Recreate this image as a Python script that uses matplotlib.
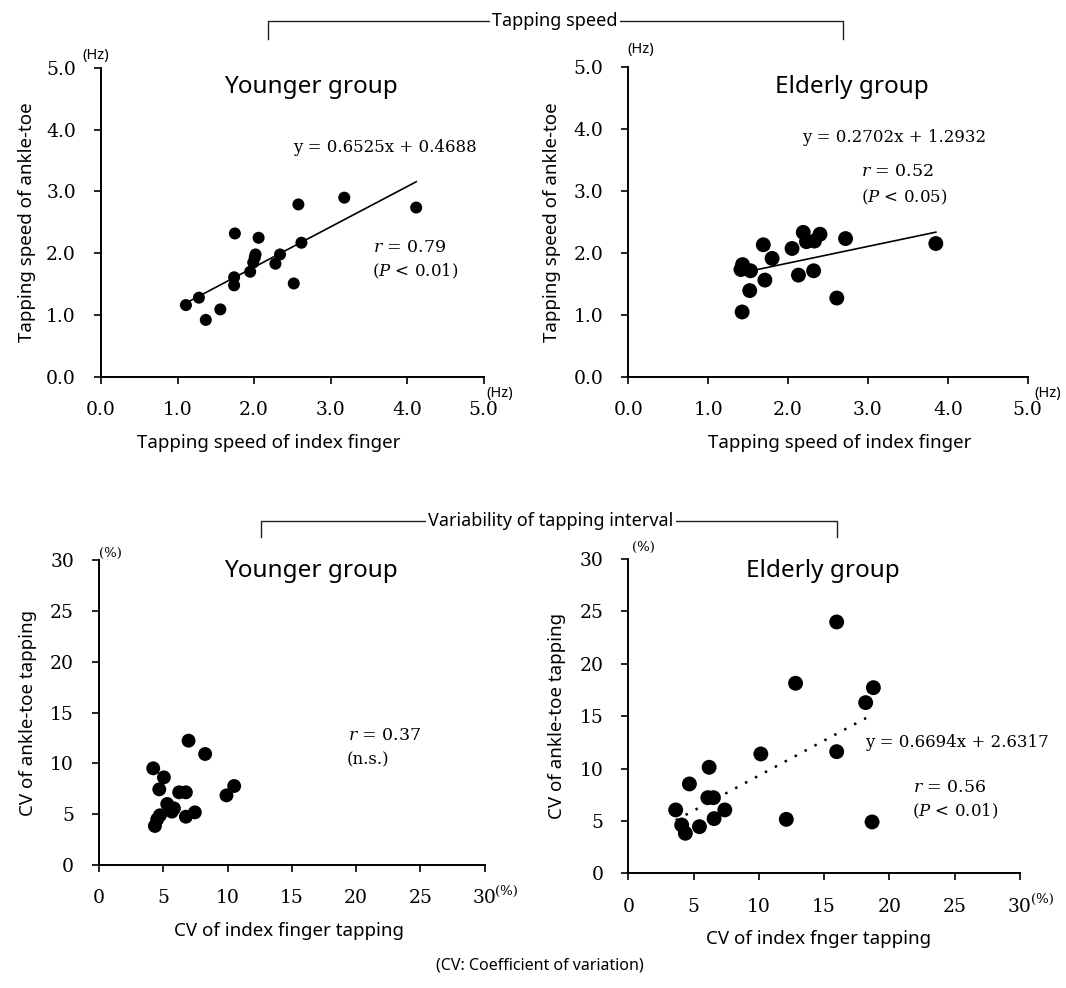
import matplotlib
matplotlib.use("Agg")
import matplotlib.pyplot as plt
import numpy as np
from matplotlib.lines import Line2D

plt.rcParams['mathtext.fontset'] = 'dejavuserif'

# ---------------- data ----------------
young_speed_finger = [1.11, 1.28, 1.37, 1.56, 1.74, 1.74, 1.75, 1.95, 1.99, 2.01, 2.02,
                      2.06, 2.28, 2.34, 2.52, 2.58, 2.62, 3.18, 4.12]
young_speed_toe = [1.16, 1.28, 0.92, 1.09, 1.61, 1.48, 2.32, 1.70, 1.85, 1.93, 1.98,
                   2.25, 1.83, 1.98, 1.51, 2.79, 2.17, 2.90, 2.74]

elder_speed_finger = [1.425, 1.41, 1.43, 1.53, 1.52, 1.69, 1.71, 1.80, 2.05, 2.13, 2.19,
                      2.23, 2.32, 2.33, 2.40, 2.61, 2.72, 3.85]
elder_speed_toe = [1.045, 1.73, 1.81, 1.71, 1.39, 2.13, 1.56, 1.91, 2.07, 1.64, 2.33,
                   2.18, 1.71, 2.19, 2.30, 1.27, 2.23, 2.15]

young_cv_finger = [4.22, 5.05, 4.69, 6.97, 8.26, 6.24, 6.76, 5.31, 5.83, 5.67, 4.74,
                   4.53, 4.35, 6.76, 7.46, 9.92, 10.52]
young_cv_toe = [9.51, 8.62, 7.44, 12.23, 10.92, 7.15, 7.15, 6.00, 5.57, 5.25, 4.89,
                4.49, 3.84, 4.75, 5.18, 6.85, 7.77]

elder_cv_finger = [3.63, 4.09, 4.37, 4.68, 5.45, 6.19, 6.09, 6.52, 6.57, 7.39, 10.15,
                   12.10, 12.81, 15.96, 15.96, 18.18, 18.77, 18.67]
elder_cv_toe = [6.05, 4.61, 3.82, 8.53, 4.45, 10.12, 7.22, 7.22, 5.22, 6.05, 11.39,
                5.15, 18.14, 23.99, 11.61, 16.29, 17.72, 4.90]

slopes = [0.6525, 0.2702, None, 0.6694]
intercepts = [0.4688, 1.2932, None, 2.6317]
r_values = ["0.79", "0.52", "0.37", "0.56"]
p_texts = ["($P$ < 0.01)", "($P$ < 0.05)", "(n.s.)", "($P$ < 0.01)"]

speed_ticks = [0.0, 1.0, 2.0, 3.0, 4.0, 5.0]
cv_ticks = [0, 5, 10, 15, 20, 25, 30]

titles = ["Younger group", "Elderly group", "Younger group", "Elderly group"]
xlabels = ["Tapping speed of index finger", "Tapping speed of index finger",
           "CV of index finger tapping", "CV of index fnger tapping"]
ylabels = ["Tapping speed of ankle-toe", "Tapping speed of ankle-toe",
           "CV of ankle-toe tapping", "CV of ankle-toe tapping"]

# ---------------- layout helpers ----------------
W, H = 1066, 988
fig = plt.figure(figsize=(W / 100, H / 100), dpi=100)


def fx(px):
    return px / W


def fy(py):
    return 1 - py / H


def add_ax(l, r, t, b):
    return fig.add_axes([fx(l), fy(b), fx(r) - fx(l), fy(t) - fy(b)])


SANS = ['Noto Sans', 'DejaVu Sans']
SERIF = 'DejaVu Serif'

boxes = [(101, 483.5, 68, 376.7), (628.3, 1027.7, 67, 376.7),
         (99, 484.5, 560, 865), (628.3, 1020, 559, 873.3)]

panels = [
    (young_speed_finger, young_speed_toe, speed_ticks, 75),
    (elder_speed_finger, elder_speed_toe, speed_ticks, 115),
    (young_cv_finger, young_cv_toe, cv_ticks, 100),
    (elder_cv_finger, elder_cv_toe, cv_ticks, 115),
]

title_pos = [(311, 87), (852, 87), (311, 571), (823, 571)]
xlabel_x = [269, 840, 289, 819]
ylabel_x = [27, 552, 28, 557]

for i, (box, (xd, yd, ticks, ms)) in enumerate(zip(boxes, panels)):
    l, r, t, b = box
    ax = add_ax(l, r, t, b)
    ax.set_xlim(ticks[0], ticks[-1])
    ax.set_ylim(ticks[0], ticks[-1])
    for s in ['top', 'right']:
        ax.spines[s].set_visible(False)
    for s in ['left', 'bottom']:
        ax.spines[s].set_linewidth(1.4)
    ax.set_xticks(ticks)
    ax.set_yticks(ticks)
    if i < 2:
        ax.set_xticklabels([f"{v:.1f}" for v in ticks])
        ax.set_yticklabels([f"{v:.1f}" for v in ticks])
    else:
        ax.set_xticklabels([f"{v:d}" for v in ticks])
        ax.set_yticklabels([f"{v:d}" for v in ticks])
    ax.tick_params(direction='out', length=5, width=1.2, labelsize=13.5)
    ax.tick_params(axis='y', pad=13)
    ax.tick_params(axis='x', pad=12.5)
    for lab in ax.get_xticklabels() + ax.get_yticklabels():
        lab.set_fontfamily(SERIF)

    ax.scatter(xd, yd, s=ms, color='black', edgecolors='none', zorder=3, clip_on=False)

    if slopes[i] is not None:
        xs = np.array([min(xd), max(xd)])
        ys = slopes[i] * xs + intercepts[i]
        ls = '-' if i < 2 else (0, (1, 3.5))
        lw = 1.2 if i < 2 else 1.8
        ax.plot(xs, ys, color='black', lw=lw, ls=ls, zorder=2)

    axh = b - t
    axw = r - l
    ax.set_xlabel(xlabels[i], fontsize=13.5, family=SANS, va='center')
    ax.xaxis.set_label_coords((xlabel_x[i] - l) / axw, -66 / axh)
    ax.set_ylabel(ylabels[i], fontsize=13.5, family=SANS, va='center')
    ax.yaxis.set_label_coords((ylabel_x[i] - l) / axw, 0.5)

    fig.text(fx(title_pos[i][0]), fy(title_pos[i][1]), titles[i], fontsize=17.5,
             family=SANS, ha='center', va='center')

# ---------------- annotations ----------------
eq_pos = {0: (293, 147), 1: (802, 137), 3: (865, 742)}
r_pos = [(373, 247), (861, 172), (348, 735), (913, 788)]
p_pos = [(372, 271), (861, 197), (347, 760), (912, 811)]
for i, (x, y) in eq_pos.items():
    fig.text(fx(x), fy(y), f"y = {slopes[i]:.4f}x + {intercepts[i]:.4f}",
             fontsize=12, family=SERIF, ha='left', va='center')
for i in range(4):
    fig.text(fx(r_pos[i][0]), fy(r_pos[i][1]), rf"$r$ = {r_values[i]}",
             fontsize=12.5, family=SERIF, ha='left', va='center')
    fig.text(fx(p_pos[i][0]), fy(p_pos[i][1]), p_texts[i],
             fontsize=12, family=SERIF, ha='left', va='center')

# unit labels
for (x, y) in [(96, 55), (641, 50)]:
    fig.text(fx(x), fy(y), "(Hz)", fontsize=10.5, family=SANS, ha='center', va='center')
for (x, y) in [(500, 393), (1048, 393)]:
    fig.text(fx(x), fy(y), "(Hz)", fontsize=10.5, family=SANS, ha='center', va='center')
for (x, y) in [(110, 553), (643, 547), (506, 891), (1042, 899)]:
    fig.text(fx(x), fy(y), "(%)", fontsize=9.5, family=SERIF, ha='center', va='center')

# ---------------- group brackets ----------------
def bracket(xl, xr, ytop, ybot, label, xc):
    fig.add_artist(Line2D([fx(xl), fx(xl), fx(xr), fx(xr)],
                          [fy(ybot), fy(ytop), fy(ytop), fy(ybot)],
                          color='#222222', lw=1.0, transform=fig.transFigure))
    fig.text(fx(xc), fy(ytop), label, fontsize=13, family=SANS, ha='center', va='center',
             bbox=dict(facecolor='white', edgecolor='none', pad=2))


bracket(268, 843, 21, 39, "Tapping speed", 555)
bracket(261, 837, 521, 537, "Variability of tapping interval", 551)

fig.text(fx(540), fy(965), "(CV: Coefficient of variation)", fontsize=11.5, family=SANS,
         ha='center', va='center')

fig.savefig("out.png", dpi=100, facecolor='white')
